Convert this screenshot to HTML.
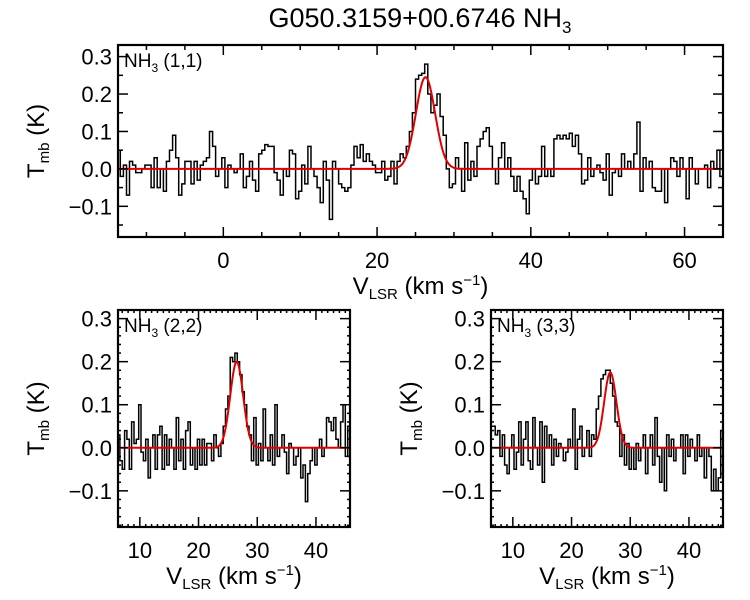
<!DOCTYPE html>
<html><head><meta charset="utf-8"><style>
body{margin:0;background:#fff}
svg{display:block;font-family:"Liberation Sans",sans-serif}
</style></head><body>
<svg id="c" width="750" height="600" viewBox="0 0 750 600">
<text x="420" y="27" font-size="27" text-anchor="middle">G050.3159+00.6746 NH<tspan font-size="17" dy="6">3</tspan></text>
</svg>
<script>
const v11Start = -13.6, v11Step = 0.4;
const t11 = [0.05,-0.02,0.01,-0.07,0.02,0.01,-0.01,-0.01,0.0,0.01,
0.01,-0.05,0.03,-0.05,0.0,-0.06,0.02,0.05,0.09,0.03,
-0.07,-0.04,0.02,0.02,-0.04,0.02,-0.03,0.01,0.02,0.03,
0.1,0.06,-0.02,0.0,0.03,-0.05,0.01,0.0,-0.01,0.0,
0.04,-0.05,-0.02,0.02,-0.03,-0.06,0.04,0.05,0.065,0.06,
0.06,-0.01,-0.03,-0.07,0.0,-0.02,0.05,0.04,-0.08,-0.06,
0.01,-0.04,0.06,0.0,-0.02,-0.05,-0.09,0.02,-0.03,-0.135,
0.02,0.0,-0.04,-0.05,-0.06,-0.05,0.01,0.06,0.03,0.065,
0.02,0.04,0.02,0.01,-0.01,-0.01,0.02,-0.03,-0.02,0.02,
-0.04,0.02,0.04,0.03,0.06,0.1,0.15,0.24,0.25,0.255,
0.28,0.2,0.15,0.17,0.2,0.14,0.09,0.0,-0.05,-0.04,
0.03,0.0,-0.06,0.07,-0.03,0.02,-0.02,0.06,0.08,0.1,
0.11,0.06,0.0,-0.04,0.03,0.07,0.0,0.03,-0.02,-0.06,
-0.02,-0.06,-0.08,-0.12,-0.03,0.0,-0.04,-0.02,0.06,-0.02,
0.0,-0.02,0.08,0.09,0.08,0.09,0.08,0.095,0.06,0.09,
0.04,-0.04,-0.03,0.03,-0.02,0.0,0.01,-0.01,-0.03,0.04,
-0.07,-0.01,0.0,-0.02,0.04,0.0,0.02,0.0,0.04,0.125,
-0.06,0.03,0.0,0.02,-0.05,-0.06,-0.06,0.0,-0.09,0.0,
0.03,0.02,-0.02,0.03,0.0,-0.08,0.03,0.0,-0.04,0.0,
0.0,0.01,-0.05,0.02,0.0,0.05,-0.02,0.01,-0.05];
const v22Start = 6.4, v22Step = 0.4;
const t22 = [0.03,-0.03,-0.05,0.04,0.02,-0.05,0.06,0.01,0.02,0.1,
-0.01,-0.03,0.02,-0.07,0.0,0.03,-0.05,0.03,0.05,-0.05,
0.03,-0.04,0.02,0.0,-0.05,0.07,-0.03,0.02,-0.05,0.04,
0.06,-0.04,0.0,-0.05,0.02,-0.04,0.02,-0.04,0.01,0.01,
-0.03,0.03,0.0,-0.02,0.01,0.05,0.09,0.12,0.21,0.2,
0.22,0.2,0.17,0.13,0.1,0.05,0.03,-0.03,0.07,-0.04,
0.01,-0.03,0.09,0.0,-0.03,0.03,-0.04,0.1,-0.02,0.0,
0.03,-0.01,-0.06,0.01,0.0,-0.04,-0.02,0.0,-0.07,-0.04,
-0.125,-0.06,-0.03,0.0,-0.04,0.0,0.02,-0.02,0.0,0.07,
0.06,0.04,0.07,0.02,0.0,0.06,0.1,-0.02,0.05];
const v33Start = 6.4, v33Step = 0.4;
const t33 = [0.05,0.05,0.03,0.04,-0.02,0.03,-0.04,-0.06,0.0,0.03,
-0.05,-0.01,0.06,-0.04,0.02,0.06,-0.03,-0.05,0.07,0.0,
-0.04,0.06,-0.08,0.05,0.0,0.03,-0.04,0.02,-0.02,0.01,
0.0,-0.03,-0.01,0.02,0.0,0.09,-0.05,0.02,0.05,-0.02,
0.0,0.04,-0.02,0.03,0.02,0.09,0.12,0.16,0.17,0.18,
0.18,0.15,0.12,0.06,0.05,-0.02,0.03,-0.04,0.01,-0.05,
0.0,-0.05,0.01,-0.03,0.0,0.03,-0.06,0.0,0.03,-0.04,
0.07,-0.02,-0.08,0.0,-0.1,0.03,-0.02,0.02,-0.03,0.0,
0.0,0.03,-0.06,0.03,-0.02,0.02,0.0,-0.03,0.03,-0.02,
0.0,-0.07,0.0,-0.02,-0.1,-0.05,-0.1,-0.07,0.04];
const fit11 = [0.245, 26.3, 1.25];
const fit22 = [0.2, 26.5, 1.1];
const fit33 = [0.175, 26.6, 1.05];
const xTicksTop = [0, 20, 40, 60];
const xTicksBot = [10, 20, 30, 40];
const yTicks = [-0.1, 0.0, 0.1, 0.2, 0.3];

const NS = 'http://www.w3.org/2000/svg';
const svg = document.getElementById('c');
function mk(tag, attrs, parent){const e=document.createElementNS(NS,tag);for(const k in attrs)e.setAttribute(k,attrs[k]);(parent||svg).appendChild(e);return e;}

function panel(o){
  const g = mk('g',{});
  
  
  const X = v => o.x0 + (v - o.xmin)/(o.xmax - o.xmin)*(o.x1 - o.x0);
  const Y = t => o.y1 - (t - o.ymin)/(o.ymax - o.ymin)*(o.y1 - o.y0);
  const clip = mk('clipPath',{id:o.name+'-clip'}, g);
  mk('rect',{x:o.x0,y:o.y0,width:o.x1-o.x0,height:o.y1-o.y0}, clip);
  let d='';
  o.data.forEach((t,i)=>{
    const v=o.vs+i*o.dv, a=X(v-o.dv/2), b=X(v+o.dv/2), y=Y(t);
    d += (i===0?'M':'L')+a.toFixed(1)+','+y.toFixed(1)+'L'+b.toFixed(1)+','+y.toFixed(1);
  });
  const sp = mk('path',{d:d,fill:'none',stroke:'#000','stroke-width':1.5,'clip-path':'url(#'+o.name+'-clip)'}, g);
  
  
  let f='';
  for(let px=o.x0; px<=o.x1; px+=1){
    const v=o.xmin+(px-o.x0)/(o.x1-o.x0)*(o.xmax-o.xmin);
    const t=o.fit[0]*Math.exp(-0.5*Math.pow((v-o.fit[1])/o.fit[2],2));
    f+=(px===o.x0?'M':'L')+px+','+Y(t).toFixed(1);
  }
  const fp = mk('path',{d:f,fill:'none',stroke:'#e00000','stroke-width':2}, g);
  
  
  mk('rect',{x:o.x0,y:o.y0,width:o.x1-o.x0,height:o.y1-o.y0,fill:'none',stroke:'#000','stroke-width':2.2}, g);
  for(let v=Math.ceil(o.xmin/o.xminor)*o.xminor; v<=o.xmax; v+=o.xminor){
    const px=X(v), maj=o.xticks.some(t=>Math.abs(t-v)<1e-6), L=maj?10:o.minLen;
    mk('line',{x1:px,x2:px,y1:o.y1,y2:o.y1-L,stroke:'#000','stroke-width':1.5}, g);
    mk('line',{x1:px,x2:px,y1:o.y0,y2:o.y0+L,stroke:'#000','stroke-width':1.5}, g);
  }
  for(let k=Math.ceil(o.ymin/o.yminor-1e-6); k*o.yminor<=o.ymax; k++){
    const t=k*o.yminor, py=Y(t), maj=yTicks.some(s=>Math.abs(s-t)<1e-6), L=maj?10:o.minLen;
    mk('line',{x1:o.x0,x2:o.x0+L,y1:py,y2:py,stroke:'#000','stroke-width':1.5}, g);
    mk('line',{x1:o.x1,x2:o.x1-L,y1:py,y2:py,stroke:'#000','stroke-width':1.5}, g);
  }
  o.xticks.forEach(v=>{
    const t=mk('text',{x:X(v),y:o.y1+31,'font-size':22,'text-anchor':'middle'}, g);
    t.textContent=String(v);
    
    
  });
  yTicks.forEach(v=>{
    const t=mk('text',{x:o.x0-6,y:Y(v)+8,'font-size':22,'text-anchor':'end'}, g);
    t.textContent=(v<0?'\u2212':'')+Math.abs(v).toFixed(1);
    
    
  });
  const xt = mk('text',{x:(o.x0+o.x1)/2,y:o.y1+57,'font-size':24,'text-anchor':'middle'}, g);
  xt.innerHTML='V<tspan font-size="15" dy="5">LSR</tspan><tspan dy="-5"> (km s</tspan><tspan font-size="15" dy="-9">\u22121</tspan><tspan dy="9">)</tspan>';
  
  
  const cy=(o.y0+o.y1)/2;
  const yt = mk('text',{x:0,y:0,'font-size':24,'text-anchor':'middle',transform:'translate('+o.ytx+','+cy+') rotate(-90)'}, g);
  yt.innerHTML='T<tspan font-size="15" dy="5">mb</tspan><tspan dy="-5"> (K)</tspan>';
  
  
  const lb = mk('text',{x:o.x0+6,y:o.y0+22,'font-size':19}, g);
  lb.innerHTML='NH<tspan font-size="12" dy="5">3</tspan><tspan dy="-5"> '+o.label+'</tspan>';
  
  
}

panel({name:'panel-nh3-11',x0:118,x1:723,y0:45,y1:237,xmin:-13.7,xmax:65.0,ymin:-0.182,ymax:0.331,
  data:t11,vs:v11Start,dv:v11Step,fit:fit11,xticks:xTicksTop,xminor:5,yminor:0.05,minLen:5,label:'(1,1)',ytx:44});
panel({name:'panel-nh3-22',x0:118,x1:350,y0:310,y1:527,xmin:6.28,xmax:45.8,ymin:-0.184,ymax:0.320,
  data:t22,vs:v22Start,dv:v22Step,fit:fit22,xticks:xTicksBot,xminor:1,yminor:0.02,minLen:3,label:'(2,2)',ytx:44});
panel({name:'panel-nh3-33',x0:491,x1:723,y0:310,y1:527,xmin:6.28,xmax:45.8,ymin:-0.184,ymax:0.320,
  data:t33,vs:v33Start,dv:v33Step,fit:fit33,xticks:xTicksBot,xminor:1,yminor:0.02,minLen:3,label:'(3,3)',ytx:417});
</script>
</body></html>
